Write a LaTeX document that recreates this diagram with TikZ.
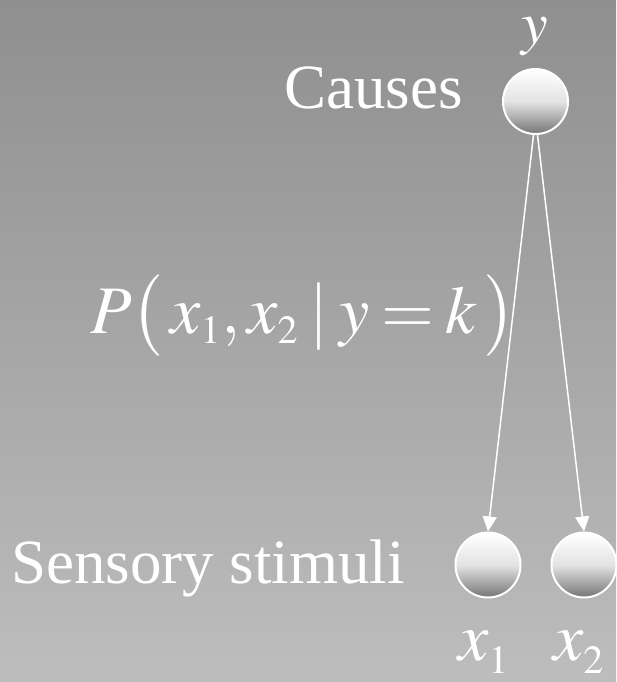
\documentclass[tikz,border=0pt]{standalone}
\usepackage{mathptmx}
\usepackage[no-math]{fontspec}
\setmainfont{Liberation Serif}
\usepackage{tikz}
\usetikzlibrary{arrows.meta,positioning}
\DeclareMathSizes{68}{68}{40}{30}
\DeclareMathSizes{62}{62}{37}{28}
\definecolor{bgtop}{HTML}{8F8F8F}
\definecolor{bgbot}{HTML}{BDBDBD}
\definecolor{ballbot}{HTML}{757575}
\tikzset{ball/.style={circle,minimum size=65pt,inner sep=0pt,draw=white,line width=2pt,top color=white,bottom color=ballbot,middle color=white!80!ballbot},label/.style={text=white,font=\fontsize{63}{70}\selectfont,inner sep=0pt},mathlabel/.style={text=white,font=\fontsize{68}{76}\selectfont,inner sep=0pt},link/.style={-{Triangle[length=15pt,width=14pt]},draw=white,line width=1.5pt}}
\begin{document}
\begin{tikzpicture}[x=1pt,y=-1pt]
\shade[top color=bgtop,bottom color=bgbot] (0,0) rectangle (616,682);
\useasboundingbox (0,0) rectangle (616,682);
\node[ball] (y) at (535.5,101.5) {};
\node[ball] (x1) at (488,565) {};
\node[ball] (x2) at (584,565) {};
\node[mathlabel,font=\fontsize{60}{66}\selectfont,anchor=base] (ylab) at (535,44) {$y$};
\node[label,anchor=base east] (causes) at (463,109) {Causes};
\node[label,anchor=base west] (sensory) at (11,583) {Sensory stimuli};
\node[mathlabel,anchor=base west] (x1lab) at (458,660) {$x_{\raisebox{-3pt}{$\scriptstyle1$}}$};
\node[mathlabel,anchor=base west] (x2lab) at (553,660) {$x_{\raisebox{-3pt}{$\scriptstyle2$}}$};
\node[mathlabel,anchor=base west] (prob) at (90,333) {\thickmuskip=3mu\medmuskip=2mu$P\bigl(\,x_1,x_2\;|\;y=k\,\bigr)$};
\draw[link] ([xshift=-2pt]y.south)--(x1.north);\draw[link] ([xshift=2pt]y.south)--(x2.north);
\end{tikzpicture}
\end{document}
